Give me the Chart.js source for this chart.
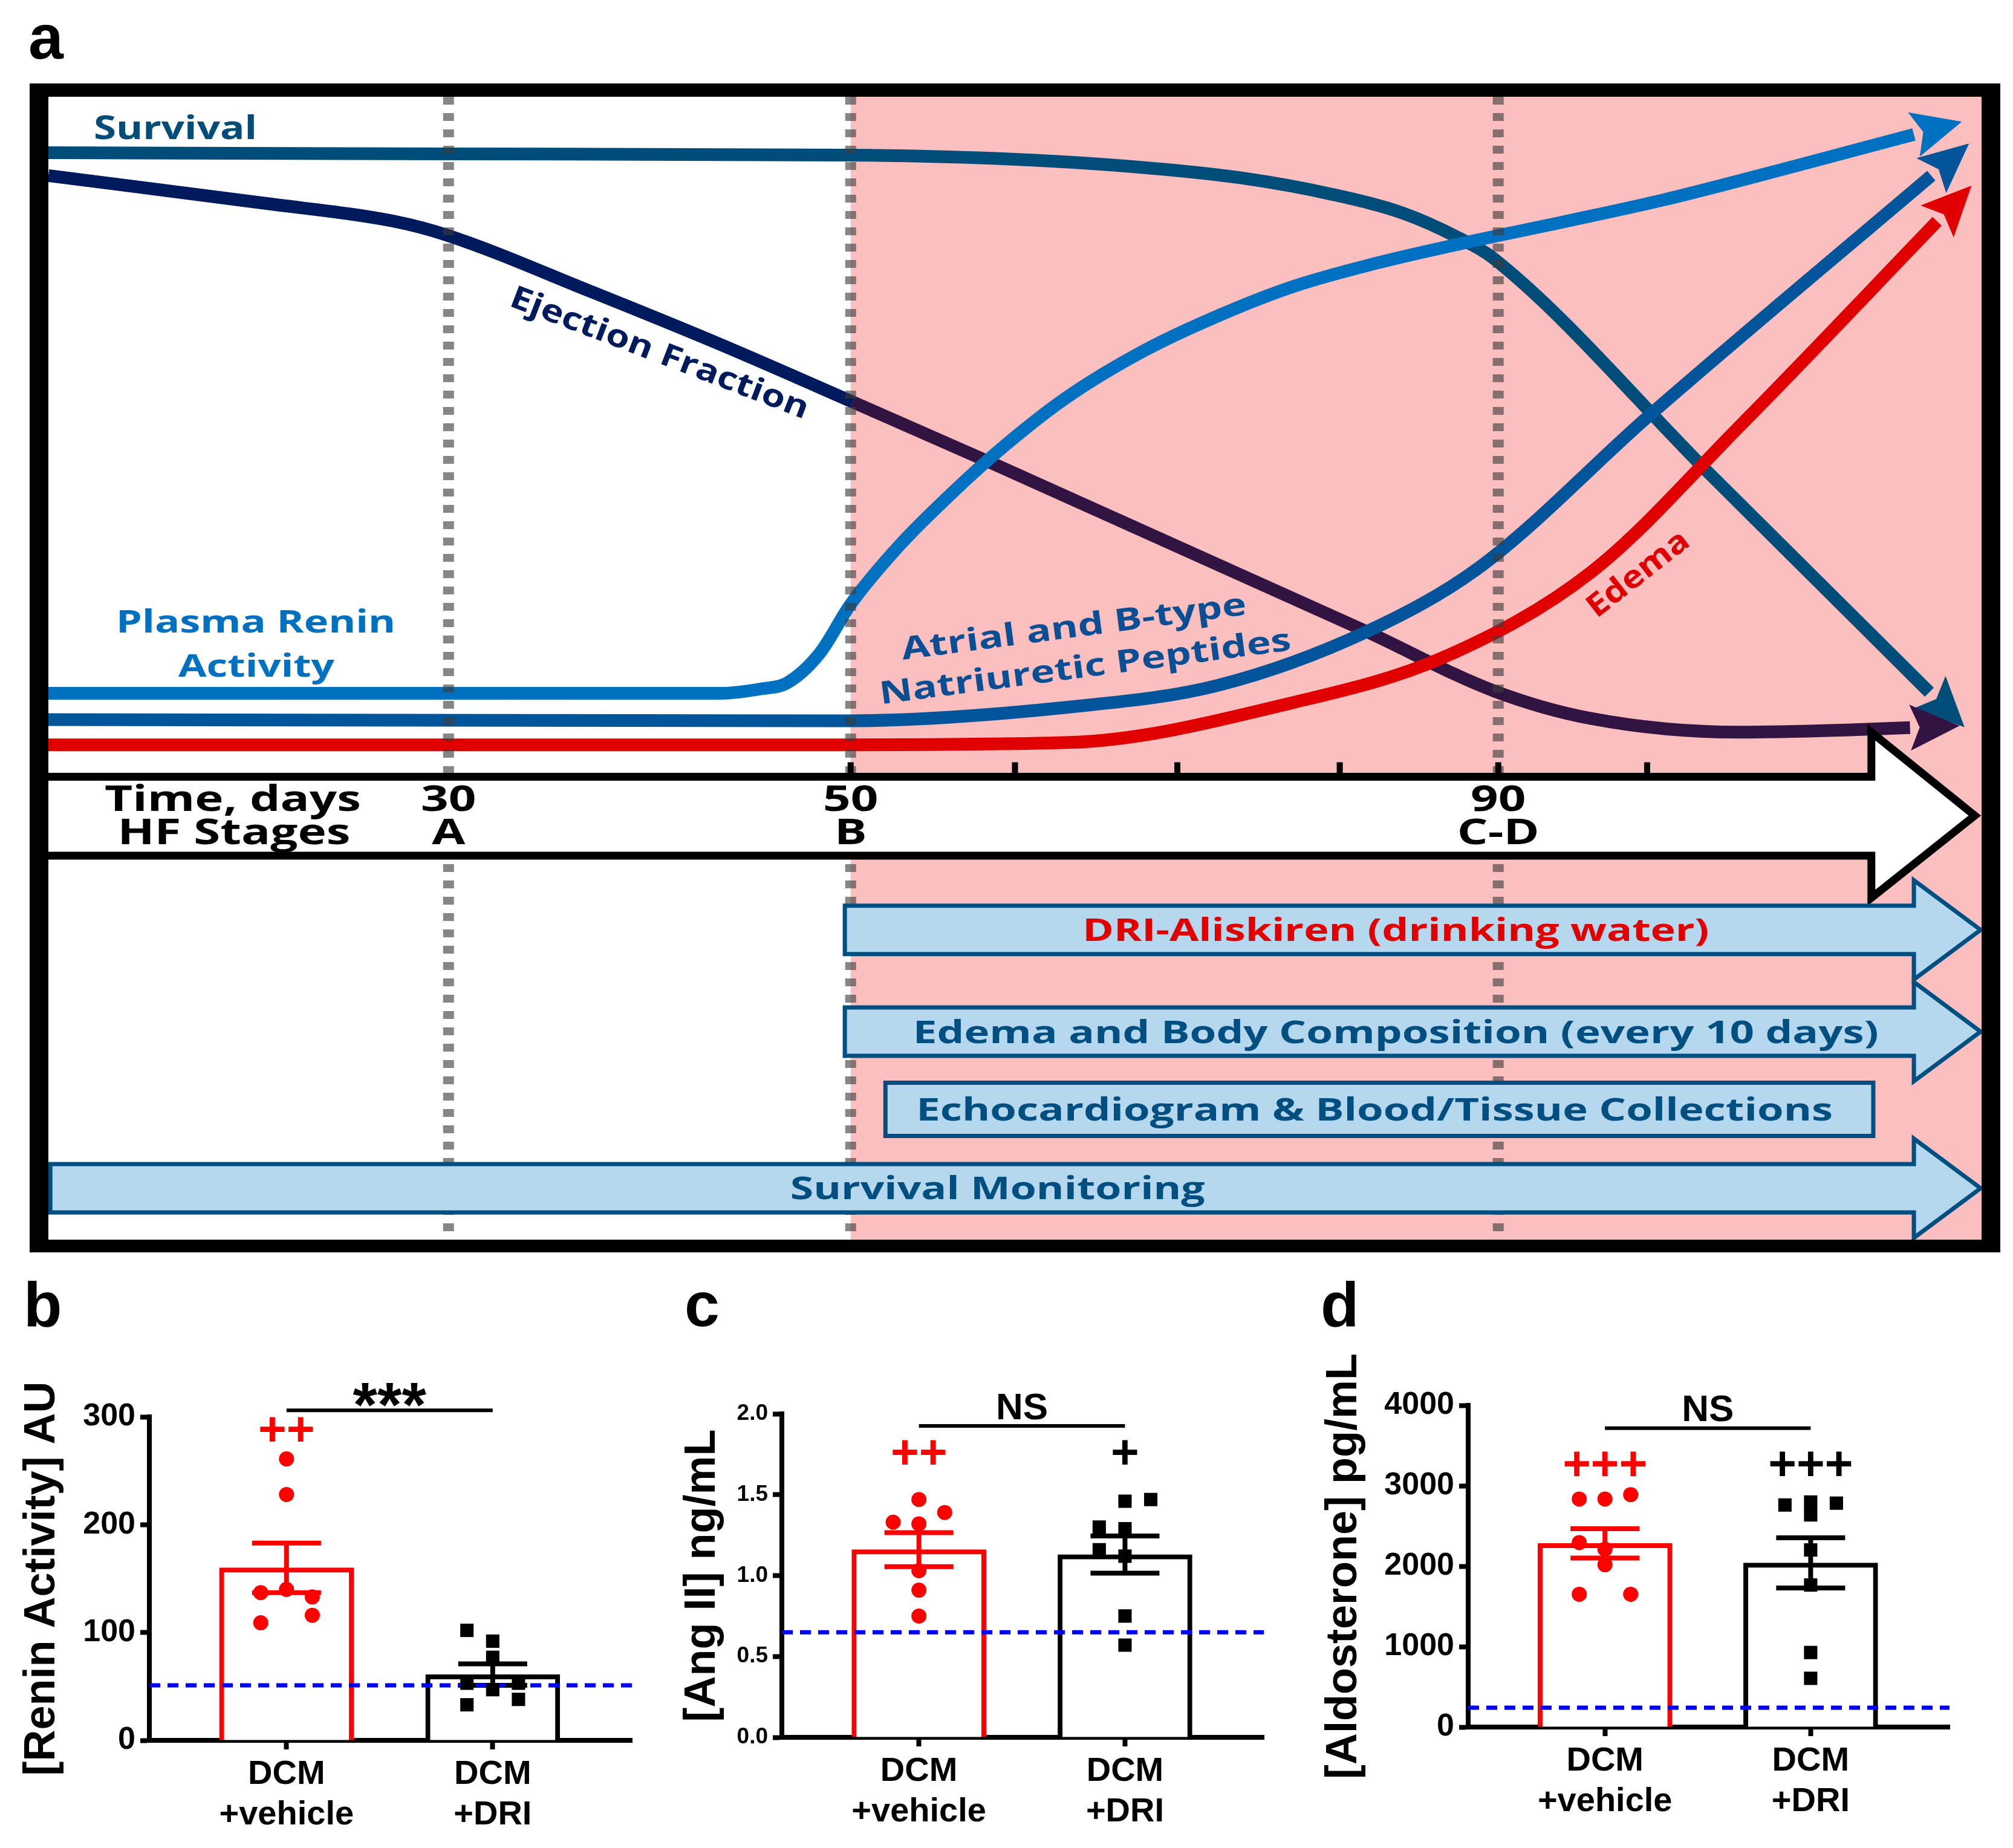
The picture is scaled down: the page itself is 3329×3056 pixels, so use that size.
<!DOCTYPE html>
<html>
<head>
<meta charset="utf-8">
<script src="https://cdn.jsdelivr.net/npm/chart.js@4"></script>
<style>
  body { margin: 0; background: #fff; }
  #page { position: relative; width: 3329px; height: 3056px; background: #fff; }
  canvas { position: absolute; }
</style>
</head>
<body>
<div id="page">
  <canvas id="panelA" width="3329" height="2100" style="left:0;top:0"></canvas>
  <canvas id="panelB" width="1100" height="956" style="left:0;top:2100px"></canvas>
  <canvas id="panelC" width="1050" height="956" style="left:1100px;top:2100px"></canvas>
  <canvas id="panelD" width="1179" height="956" style="left:2150px;top:2100px"></canvas>
</div>
<script>
// ---- panel a: schematic time course (x = time position 0-100, y = relative level 0-100)
const survival = [[0,95.1],[20.6,95.0],[41.3,94.9],[49.0,94.6],[56.7,93.8],[61.7,92.9],[66.3,91.5],[70.1,89.8],[72.9,87.7],[74.8,85.8],[86.0,66.9],[97.3,47.9]];
const ejection = [[0,93.1],[11.1,90.7],[17.9,89.1],[20.6,87.9],[28.0,83.0],[34.8,78.3],[41.6,73.3],[49.0,67.8],[68.2,53.2],[74.8,48.0],[79.8,45.6],[87.5,44.4],[93.2,44.6],[96.3,44.8]];
const plasmaRenin = [[0,47.8],[34.8,47.8],[36.9,48.2],[38.2,48.7],[39.9,51.3],[41.5,55.6],[44.0,60.7],[46.6,65.1],[49.0,68.8],[52.6,73.6],[56.7,77.8],[60.6,80.9],[64.4,83.4],[68.6,85.4],[73.2,87.2],[78.5,89.1],[83.6,91.0],[90.5,94.0],[96.5,96.7]];
const natriuretic = [[0,45.5],[41.3,45.4],[52.8,46.6],[60.5,48.5],[68.2,53.2],[74.0,58.8],[82.8,72.1],[97.4,93.1]];
const edema = [[0,43.3],[41.3,43.3],[52.8,43.5],[64.4,47.0],[72.1,50.9],[79.8,58.4],[87.5,71.2],[97.7,89.1]];

const stageDays = ['30', '50', '90'];
const stageNames = ['A', 'B', 'C-D'];
const stageX = [20.7, 41.5, 75.0];
const dayTicks = [41.5, 50.0, 58.4, 66.8, 75.0, 82.7];
const treatmentStart = 41.5;

const phaseLabels = ['DRI-Aliskiren (drinking water)', 'Edema and Body Composition (every 10 days)', 'Echocardiogram & Blood/Tissue Collections', 'Survival Monitoring'];
const phaseStart = [41.2, 41.2, 43.3, 0.1];
const phaseEnd = [96.5, 96.5, 94.4, 96.5];
const phaseRow = [27.1, 18.2, 11.4, 4.5];
const phaseIsArrow = [true, true, false, true];

// ---- panels b-d
const groups = [['DCM', '+vehicle'], ['DCM', '+DRI']];
const groupX = [1, 2];

const reninVehicle = [261, 228, 137, 140, 133, 109, 116];
const reninDri = [102, 92, 77, 53, 47, 53, 33, 38];
const reninMean = [160, 61];
const reninSem = [23, 10];
const reninRef = 51;

const angVehicle = [1.47, 1.39, 1.33, 1.32, 1.03, 0.91, 0.75];
const angDri = [1.46, 1.47, 1.30, 1.29, 1.16, 1.12, 0.75, 0.57];
const angMean = [1.16, 1.13];
const angSem = [0.105, 0.115];
const angRef = 0.65;

const aldoVehicle = [2835, 2835, 2890, 2294, 2211, 2018, 1651, 1651];
const aldoDri = [2761, 2798, 2784, 2638, 2202, 1766, 927, 606];
const aldoMean = [2284, 2041];
const aldoSem = [183, 312];
const aldoRef = 240;

// column slots for the scatter points (-1, 0, 1)
const reninSlots = [[0,0,-1,0,1,-1,1], [-1,0,0,-1,0,1,-1,1]];
const angSlots = [[0,1,-1,0,0,0,0], [0,1,-1,0,-1,0,0,0]];
const aldoSlots = [[-1,0,1,-1,0,0,-1,1], [-1,0,1,0,0,0,0,0]];

const OPEN = '"Open Sans", "DejaVu Sans", sans-serif';
const ARIAL = '"Liberation Sans", Arial, sans-serif';
const RED = '#ff0000';

Chart.defaults.color = '#000';
Chart.defaults.font.family = ARIAL;

function drawText(ctx, text, x, y, o) {
    ctx.save();
    ctx.font = 'bold ' + o.size + 'px ' + (o.family || OPEN);
    ctx.fillStyle = o.color || '#000';
    ctx.textAlign = o.align || 'center';
    ctx.textBaseline = o.baseline || 'alphabetic';
    ctx.translate(x, y);
    if (o.angle) ctx.rotate(o.angle * Math.PI / 180);
    let sx = o.sx || 1;
    if (o.width) sx = o.width / ctx.measureText(text).width;
    ctx.scale(sx, 1);
    ctx.fillText(text, 0, 0);
    ctx.restore();
    return sx;
}

function textScale(ctx, text, size, width) {
    ctx.save();
    ctx.font = 'bold ' + size + 'px ' + OPEN;
    const w = ctx.measureText(text).width;
    ctx.restore();
    return width / w;
}

function arrowHead(ctx, base, from, color) {
    const len = 82, half = 38, notch = 16;
    const dx = base.x - from.x, dy = base.y - from.y;
    const d = Math.hypot(dx, dy);
    const ux = dx / d, uy = dy / d, px = -uy, py = ux;
    ctx.beginPath();
    ctx.moveTo(base.x + ux * len, base.y + uy * len);
    ctx.lineTo(base.x + px * half, base.y + py * half);
    ctx.lineTo(base.x + ux * notch, base.y + uy * notch);
    ctx.lineTo(base.x - px * half, base.y - py * half);
    ctx.closePath();
    ctx.fillStyle = color;
    ctx.fill();
}

const panelAPlugin = {
    id: 'panelA',
    beforeDatasetsDraw(chart) {
        const {ctx, chartArea: a, scales: {x}} = chart;
        const px = x.getPixelForValue(treatmentStart);
        ctx.save();
        ctx.fillStyle = '#fcbfbf';
        ctx.fillRect(px, a.top, a.right - px, a.bottom - a.top);
        ctx.restore();
    },
    afterDatasetsDraw(chart) {
        const {ctx, chartArea: a, scales: {x, y}} = chart;
        ctx.save();

        // arrow heads at the end of every curve
        chart.data.datasets.forEach((ds, i) => {
            const pts = chart.getDatasetMeta(i).data;
            const last = pts[pts.length - 1];
            let from = {x: last.cp1x, y: last.cp1y};
            if (!isFinite(from.x) || Math.hypot(last.x - from.x, last.y - from.y) < 2) from = pts[pts.length - 2];
            arrowHead(ctx, last, from, ds.borderColor);
        });

        // dotted stage lines
        ctx.strokeStyle = 'rgba(60,60,60,0.62)';
        ctx.lineWidth = 18;
        ctx.setLineDash([13, 14]);
        stageX.forEach(v => {
            const px = x.getPixelForValue(v);
            ctx.beginPath();
            ctx.moveTo(px, a.top);
            ctx.lineTo(px, a.bottom);
            ctx.stroke();
        });
        ctx.setLineDash([]);

        // time axis arrow
        const yT = y.getPixelForValue(40.5), yB = y.getPixelForValue(33.6);
        const yHT = y.getPixelForValue(44.4), yHB = y.getPixelForValue(29.9), yTip = y.getPixelForValue(37.1);
        const xBack = x.getPixelForValue(94.3), xTip = x.getPixelForValue(99.65);
        ctx.beginPath();
        ctx.moveTo(a.left - 20, yT);
        ctx.lineTo(xBack, yT);
        ctx.lineTo(xBack, yHT);
        ctx.lineTo(xTip, yTip);
        ctx.lineTo(xBack, yHB);
        ctx.lineTo(xBack, yB);
        ctx.lineTo(a.left - 20, yB);
        ctx.fillStyle = '#fff';
        ctx.fill();
        ctx.lineWidth = 13;
        ctx.strokeStyle = '#000';
        ctx.lineJoin = 'miter';
        ctx.stroke();
        ctx.fillStyle = '#000';
        dayTicks.forEach(v => {
            const px = x.getPixelForValue(v);
            ctx.fillRect(px - 5, yT - 24, 10, 24);
        });

        const sx = textScale(ctx, 'Time, days', 59, 424);
        const row1 = y.getPixelForValue(37.5), row2 = y.getPixelForValue(34.6);
        drawText(ctx, 'Time, days', x.getPixelForValue(9.54), row1, {size: 59, sx});
        drawText(ctx, 'HF Stages', x.getPixelForValue(9.6), row2, {size: 59, sx});
        stageX.forEach((v, i) => {
            drawText(ctx, stageDays[i], x.getPixelForValue(v), row1, {size: 59, sx});
            drawText(ctx, stageNames[i], x.getPixelForValue(v), row2, {size: 59, sx});
        });

        // study phases
        const textX = [69.7, 69.7, 68.6, 49.1];
        const textW = [1036, 1597, 1516, 686];
        phaseLabels.forEach((lab, i) => {
            const x0 = x.getPixelForValue(phaseStart[i]), x1 = x.getPixelForValue(phaseEnd[i]);
            const yc = y.getPixelForValue(phaseRow[i]);
            ctx.beginPath();
            if (phaseIsArrow[i]) {
                const bh = 40, hh = 82, tip = x.getPixelForValue(99.95);
                ctx.moveTo(x0, yc - bh);
                ctx.lineTo(x1, yc - bh);
                ctx.lineTo(x1, yc - hh);
                ctx.lineTo(tip, yc);
                ctx.lineTo(x1, yc + hh);
                ctx.lineTo(x1, yc + bh);
                ctx.lineTo(x0, yc + bh);
            } else {
                ctx.rect(x0, yc - 44, x1 - x0, 88);
            }
            ctx.closePath();
            ctx.fillStyle = '#b5d8ef';
            ctx.fill();
            ctx.lineWidth = 7;
            ctx.strokeStyle = '#004f80';
            ctx.stroke();
            drawText(ctx, lab, x.getPixelForValue(textX[i]), yc + 18.5,
                {size: 52, width: textW[i], color: i === 0 ? '#e00000' : '#004f80'});
        });

        // curve labels
        drawText(ctx, 'Survival', x.getPixelForValue(6.57), y.getPixelForValue(96.3), {size: 53, width: 270, color: '#004d7a'});
        drawText(ctx, 'Plasma Renin', x.getPixelForValue(10.73), y.getPixelForValue(53.12), {size: 52, width: 462, color: '#0070c0'});
        drawText(ctx, 'Activity', x.getPixelForValue(10.76), y.getPixelForValue(49.26), {size: 52, width: 258, color: '#0070c0'});
        drawText(ctx, 'Ejection Fraction', x.getPixelForValue(31.6), y.getPixelForValue(77.5), {size: 52, width: 525, angle: 21, baseline: 'middle', color: '#001a5e'});
        drawText(ctx, 'Atrial and B-type', x.getPixelForValue(53.05), y.getPixelForValue(53.5), {size: 52, width: 575, angle: -7.5, baseline: 'middle', color: '#0a4f94'});
        drawText(ctx, 'Natriuretic Peptides', x.getPixelForValue(53.64), y.getPixelForValue(50.0), {size: 52, width: 686, angle: -7.5, baseline: 'middle', color: '#0a4f94'});
        drawText(ctx, 'Edema', x.getPixelForValue(82.26), y.getPixelForValue(58.2), {size: 52, width: 200, angle: -38, baseline: 'middle', color: '#e00000'});

        // frame
        ctx.fillStyle = '#000';
        ctx.fillRect(a.left - 31, a.top - 22, a.right - a.left + 62, 22);
        ctx.fillRect(a.left - 31, a.bottom, a.right - a.left + 62, 21);
        ctx.fillRect(a.left - 31, a.top - 22, 31, a.bottom - a.top + 43);
        ctx.fillRect(a.right, a.top - 22, 31, a.bottom - a.top + 43);

        drawText(ctx, 'a', 47, 97, {size: 104, family: ARIAL, align: 'left'});
        ctx.restore();
    }
};

const curves = [
    {label: 'Edema', pts: edema, color: '#e00000'},
    {label: 'Plasma Renin Activity', pts: plasmaRenin, color: '#0070c0'},
    {label: 'Atrial and B-type Natriuretic Peptides', pts: natriuretic, color: '#02559b'},
    {label: 'Survival', pts: survival, color: '#004d7a'},
    {label: 'Ejection Fraction', pts: ejection, color: '#321442', early: '#001a5e'}
];

new Chart(document.getElementById('panelA'), {
    type: 'line',
    data: {
        datasets: curves.map(c => {
            const ds = {
                label: c.label,
                data: c.pts.map(p => ({x: p[0], y: p[1]})),
                borderColor: c.color,
                borderWidth: 21,
                pointRadius: 0,
                cubicInterpolationMode: 'monotone',
                borderCapStyle: 'butt',
                borderJoinStyle: 'round',
                fill: false
            };
            if (c.early) ds.segment = {borderColor: s => s.p0.parsed.x < treatmentStart ? c.early : c.color};
            return ds;
        })
    },
    options: {
        responsive: false,
        animation: false,
        devicePixelRatio: 1,
        layout: {padding: {left: 80, right: 52, top: 160, bottom: 50}},
        scales: {
            x: {type: 'linear', display: false, min: 0, max: 100},
            y: {type: 'linear', display: false, min: 0, max: 100}
        },
        plugins: {legend: {display: false}, tooltip: {enabled: false}}
    },
    plugins: [panelAPlugin]
});

// ---- bar panels
const xMin = 0.335, xMax = 2.675, slotW = 0.125;

function makeBarPlugin(p) {
    return {
        id: 'bars' + p.letter,
        afterDatasetDraw(chart, args) {
            if (args.index !== 0) return;
            const {ctx, scales: {x, y}} = chart;
            ctx.save();
            ctx.lineWidth = 8;
            groupX.forEach((g, i) => {
                const px = x.getPixelForValue(g);
                const top = y.getPixelForValue(p.mean[i] + p.sem[i]);
                const bot = y.getPixelForValue(p.mean[i] - p.sem[i]);
                ctx.strokeStyle = i === 0 ? RED : '#000';
                ctx.beginPath();
                ctx.moveTo(px, top); ctx.lineTo(px, bot);
                ctx.moveTo(px - 57, top); ctx.lineTo(px + 57, top);
                ctx.moveTo(px - 57, bot); ctx.lineTo(px + 57, bot);
                ctx.stroke();
            });
            ctx.restore();
        },
        afterDatasetsDraw(chart) {
            const {ctx, scales: {x, y}} = chart;
            ctx.save();
            const x1 = x.getPixelForValue(groupX[0]), x2 = x.getPixelForValue(groupX[1]);
            const ly = y.getPixelForValue(p.bracket);
            ctx.strokeStyle = '#000';
            ctx.lineWidth = 6;
            ctx.beginPath();
            ctx.moveTo(x1, ly); ctx.lineTo(x2, ly);
            ctx.stroke();
            drawText(ctx, p.sig, (x1 + x2) / 2, ly + p.sigDy, {size: p.sigSize, family: ARIAL});
            p.plus.forEach((s, i) => {
                if (s) drawText(ctx, s, x.getPixelForValue(groupX[i]), y.getPixelForValue(p.plusY), {size: 80, family: ARIAL, baseline: 'middle', color: i === 0 ? RED : '#000'});
            });
            drawText(ctx, p.letter, p.letterX, 93, {size: 104, family: ARIAL, align: 'left'});
            ctx.restore();
        }
    };
}

function drawBarPanel(p) {
    const font = (size) => ({family: ARIAL, size: size, weight: 'bold'});
    new Chart(document.getElementById(p.id), {
        type: 'bar',
        data: {
            datasets: [
                {
                    type: 'bar',
                    data: groupX.map((g, i) => ({x: g, y: p.mean[i]})),
                    backgroundColor: '#fff',
                    borderColor: [RED, '#000'],
                    borderWidth: 8,
                    barThickness: 222,
                    order: 3
                },
                {
                    type: 'line',
                    data: [{x: xMin, y: p.ref}, {x: xMax, y: p.ref}],
                    borderColor: '#0000ff',
                    borderWidth: 7,
                    borderDash: [18, 12],
                    pointRadius: 0,
                    order: 2
                },
                {
                    type: 'scatter',
                    data: p.vehicle.map((v, i) => ({x: groupX[0] + p.slots[0][i] * slotW, y: v})),
                    pointStyle: 'circle',
                    pointRadius: 12.5,
                    pointBackgroundColor: RED,
                    pointBorderWidth: 0,
                    order: 1
                },
                {
                    type: 'scatter',
                    data: p.dri.map((v, i) => ({x: groupX[1] + p.slots[1][i] * slotW, y: v})),
                    pointStyle: 'rect',
                    pointRadius: 15.6,
                    pointBackgroundColor: '#000',
                    pointBorderWidth: 0,
                    order: 0
                }
            ]
        },
        options: {
            responsive: false,
            animation: false,
            devicePixelRatio: 1,
            layout: {padding: {left: 0, right: p.padRight, top: p.padTop, bottom: 0}},
            scales: {
                x: {
                    type: 'linear', min: xMin, max: xMax, z: 1, offset: false,
                    afterBuildTicks: s => { s.ticks = groupX.map(v => ({value: v})); },
                    afterFit: s => { s.height = p.xHeight; },
                    ticks: {
                        callback: v => groups[groupX.indexOf(v)],
                        autoSkip: false, maxRotation: 0, padding: 8,
                        font: font(56), color: '#000'
                    },
                    grid: {offset: false, drawOnChartArea: false, drawTicks: true, tickLength: 15, tickWidth: 8, tickColor: '#000'},
                    border: {display: true, color: '#000', width: 8}
                },
                y: {
                    type: 'linear', min: 0, max: p.max, z: 1,
                    afterFit: s => { s.width = p.yWidth; },
                    ticks: {
                        stepSize: p.step, padding: 8,
                        callback: v => v.toFixed(p.dec),
                        font: font(p.tickSize), color: '#000'
                    },
                    grid: {drawOnChartArea: false, drawTicks: true, tickLength: 15, tickWidth: 8, tickColor: '#000'},
                    border: {display: true, color: '#000', width: 8},
                    title: {display: true, text: p.title, font: font(72), color: '#000', padding: {top: p.titlePad, bottom: 0}}
                }
            },
            plugins: {legend: {display: false}, tooltip: {enabled: false}}
        },
        plugins: [makeBarPlugin(p)]
    });
}

drawBarPanel({
    id: 'panelB', letter: 'b', letterX: 39, title: '[Renin Activity] AU',
    vehicle: reninVehicle, dri: reninDri, mean: reninMean, sem: reninSem, ref: reninRef, slots: reninSlots,
    max: 300, step: 100, dec: 0, tickSize: 52,
    yWidth: 247, xHeight: 178, padTop: 243, padRight: 55, titlePad: 27,
    bracket: 306, sig: '***', sigSize: 104, sigDy: 27, plus: ['++', ''], plusY: 286
});
drawBarPanel({
    id: 'panelC', letter: 'c', letterX: 32, title: '[Ang II] ng/mL',
    vehicle: angVehicle, dri: angDri, mean: angMean, sem: angSem, ref: angRef, slots: angSlots,
    max: 2, step: 0.5, dec: 1, tickSize: 37,
    yWidth: 193, xHeight: 183, padTop: 238, padRight: 59.5, titlePad: 19,
    bracket: 1.925, sig: 'NS', sigSize: 62, sigDy: -11, plus: ['++', '+'], plusY: 1.746
});
drawBarPanel({
    id: 'panelD', letter: 'd', letterX: 34, title: '[Aldosterone] pg/mL',
    vehicle: aldoVehicle, dri: aldoDri, mean: aldoMean, sem: aldoSem, ref: aldoRef, slots: aldoSlots,
    max: 4000, step: 1000, dec: 0, tickSize: 52,
    yWidth: 278, xHeight: 200, padTop: 224, padRight: 105, titlePad: 30,
    bracket: 3716, sig: 'NS', sigSize: 62, sigDy: -12, plus: ['+++', '+++'], plusY: 3241
});
</script>
</body>
</html>
